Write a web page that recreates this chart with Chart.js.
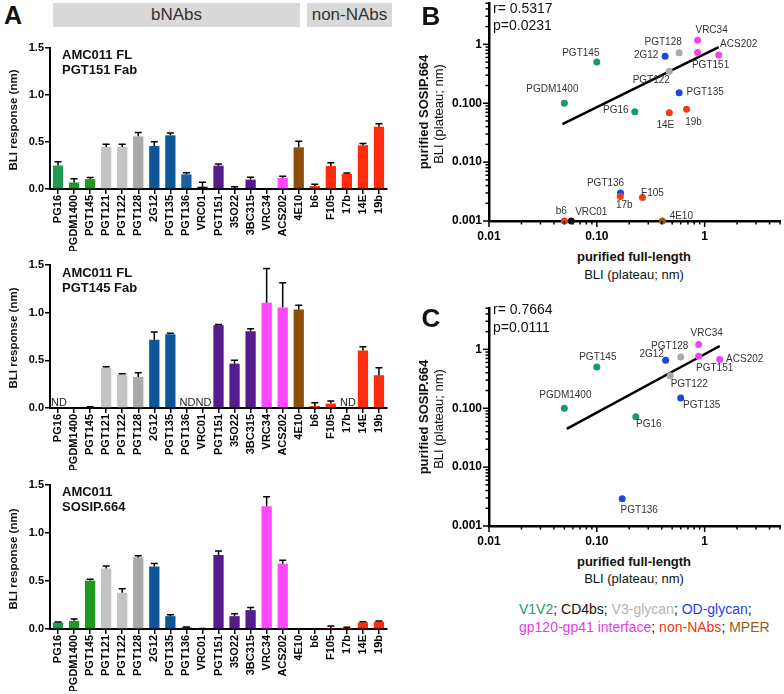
<!DOCTYPE html>
<html>
<head>
<meta charset="utf-8">
<script src="https://cdn.jsdelivr.net/npm/chart.js@4.4.0/dist/chart.umd.min.js"></script>
<style>
body { margin: 0; width: 784px; height: 694px; position: relative; overflow: hidden; background: #fff; font-family: "Liberation Sans", Arial, sans-serif; }
canvas { position: absolute; }
.t { position: absolute; white-space: nowrap; color: #111; line-height: 1; }
.c { transform: translate(-50%, -50%); }
.r { transform: translate(-50%, -50%) rotate(-90deg); }
.box { position: absolute; background: #d9d9d9; color: #333; font-size: 17px; text-align: center; line-height: 24px; height: 24px; }
</style>
</head>
<body>

<div class="t" style="left:4px;top:3px;font-size:25px;font-weight:bold;">A</div>
<div class="box" style="left:53px;top:3px;width:247px;">bNAbs</div>
<div class="box" style="left:307px;top:3px;width:85px;">non-NAbs</div>

<canvas id="barFab151" width="395" height="213" style="left:0;top:38px;"></canvas>
<canvas id="barFab145" width="395" height="215" style="left:0;top:255px;"></canvas>
<canvas id="barSosip" width="395" height="216" style="left:0;top:475px;"></canvas>

<div class="t" style="left:62px;top:47px;font-size:13px;font-weight:bold;line-height:15px;">AMC011 FL<br>PGT151 Fab</div>
<div class="t" style="left:62px;top:265px;font-size:13px;font-weight:bold;line-height:15px;">AMC011 FL<br>PGT145 Fab</div>
<div class="t" style="left:62px;top:484px;font-size:13px;font-weight:bold;line-height:15px;">AMC011<br>SOSIP.664</div>

<div class="t r" style="left:14px;top:120px;font-size:11.5px;font-weight:bold;">BLI response (nm)</div>
<div class="t r" style="left:14px;top:338px;font-size:11.5px;font-weight:bold;">BLI response (nm)</div>
<div class="t r" style="left:14px;top:559px;font-size:11.5px;font-weight:bold;">BLI response (nm)</div>

<canvas id="scatterB" width="384" height="251" style="left:400px;top:-5px;"></canvas>
<canvas id="scatterC" width="384" height="251" style="left:400px;top:300px;"></canvas>

<div class="t c" style="left:431px;top:16px;font-size:26px;font-weight:bold;">B</div>
<div class="t" style="left:493px;top:1px;font-size:14px;">r= 0.5317</div>
<div class="t" style="left:493px;top:18px;font-size:14px;">p=0.0231</div>
<div class="t c" style="left:634px;top:256px;font-size:13px;font-weight:bold;">purified full-length</div>
<div class="t c" style="left:634px;top:274px;font-size:13px;">BLI (plateau; nm)</div>
<div class="t r" style="left:423px;top:112px;font-size:13px;font-weight:bold;">purified SOSIP.664</div>
<div class="t r" style="left:438px;top:114px;font-size:13px;">BLI (plateau; nm)</div>

<div class="t c" style="left:431px;top:318px;font-size:26px;font-weight:bold;">C</div>
<div class="t" style="left:493px;top:302px;font-size:14px;">r= 0.7664</div>
<div class="t" style="left:493px;top:320px;font-size:14px;">p=0.0111</div>
<div class="t c" style="left:634px;top:561px;font-size:13px;font-weight:bold;">purified full-length</div>
<div class="t c" style="left:634px;top:578px;font-size:13px;">BLI (plateau; nm)</div>
<div class="t r" style="left:423px;top:417px;font-size:13px;font-weight:bold;">purified SOSIP.664</div>
<div class="t r" style="left:438px;top:419px;font-size:13px;">BLI (plateau; nm)</div>

<div class="t" style="left:519px;top:600px;font-size:14px;line-height:18px;">
<span style="color:#139a6a">V1V2</span>; <span style="color:#111">CD4bs</span>; <span style="color:#b3b3b3">V3-glycan</span>; <span style="color:#1d40ee">OD-glycan</span>;<br>
<span style="color:#e43ee4">gp120-gp41 interface</span>; <span style="color:#f03412">non-NAbs</span>; <span style="color:#9a5a12">MPER</span>
</div>

<script>
// antibodies on the bar charts
const antibodies = ['PG16', 'PGDM1400', 'PGT145', 'PGT121', 'PGT122', 'PGT128', '2G12', 'PGT135', 'PGT136', 'VRC01',
  'PGT151', '35O22', '3BC315', 'VRC34', 'ACS202', '4E10', 'b6', 'F105', '17b', '14E', '19b'];

// AMC011 FL captured with PGT151 Fab
const fab151Values = [0.25, 0.07, 0.105, 0.447, 0.447, 0.56, 0.457, 0.571, 0.156, 0.025, 0.248, 0.005, 0.1, 0, 0.117, 0.443, 0.032, 0.245, 0.16, 0.465, 0.663];
const fab151Errors = [0.04, 0.04, 0.018, 0.03, 0.03, 0.04, 0.046, 0.025, 0.018, 0.046, 0.018, 0.02, 0.025, 0, 0.018, 0.064, 0.018, 0.035, 0.01, 0.018, 0.032];
const fab151ND = [];

// AMC011 FL captured with PGT145 Fab
const fab145Values = [0, 0, 0.01, 0.422, 0.351, 0.326, 0.716, 0.773, 0, 0, 0.869, 0.465, 0.805, 1.103, 1.053, 1.032, 0.021, 0.046, 0, 0.603, 0.344];
const fab145Errors = [0, 0, 0.004, 0.01, 0.007, 0.043, 0.08, 0.01, 0, 0, 0.007, 0.035, 0.025, 0.36, 0.26, 0.046, 0.035, 0.028, 0, 0.039, 0.078];
const fab145ND = ['PG16', 'PGT136', 'VRC01', '17b'];

// AMC011 SOSIP.664
const sosipValues = [0.067, 0.085, 0.504, 0.63, 0.377, 0.746, 0.651, 0.134, 0.018, 0.003, 0.771, 0.134, 0.197, 1.278, 0.68, 0, 0, 0.005, 0.003, 0.068, 0.076];
const sosipErrors = [0.007, 0.018, 0.014, 0.025, 0.042, 0.018, 0.032, 0.014, 0.004, 0.003, 0.042, 0.025, 0.028, 0.1, 0.035, 0, 0, 0.025, 0.014, 0.007, 0.007];
const sosipND = [];

const barTicks = [0, 0.5, 1.0, 1.5];

// panel B: full-length vs SOSIP.664
const namesB = ['PGT145', 'PGDM1400', 'PG16', '2G12', 'PGT128', 'PGT122', 'VRC34', 'PGT151', 'ACS202', 'PGT135',
  '14E', '19b', 'PGT136', '17b', 'F105', 'b6', 'VRC01', '4E10'];
const fullLengthB = [0.1, 0.05, 0.225, 0.43, 0.58, 0.47, 0.86, 0.86, 1.35, 0.58, 0.47, 0.68, 0.166, 0.165, 0.265, 0.05, 0.058, 0.405];
const sosipB = [0.5, 0.1, 0.072, 0.63, 0.72, 0.35, 1.17, 0.73, 0.66, 0.15, 0.069, 0.079, 0.003, 0.0026, 0.0025, 0.001, 0.001, 0.001];
const groupB = ['V1V2', 'V1V2', 'V1V2', 'OD', 'V3', 'V3', 'interface', 'interface', 'interface', 'OD',
  'nonNAb', 'nonNAb', 'OD', 'nonNAb', 'nonNAb', 'nonNAb', 'CD4bs', 'MPER'];
const fitB = [[0.048, 0.044], [1.35, 0.9]];

// panel C: bNAbs only
const namesC = ['PGT145', 'PGDM1400', 'PG16', '2G12', 'PGT128', 'PGT122', 'VRC34', 'PGT151', 'ACS202', 'PGT135', 'PGT136'];
const fullLengthC = [0.1, 0.05, 0.23, 0.435, 0.6, 0.48, 0.88, 0.88, 1.38, 0.6, 0.172];
const sosipC = [0.5, 0.1, 0.072, 0.65, 0.74, 0.355, 1.21, 0.76, 0.67, 0.149, 0.0029];
const groupC = ['V1V2', 'V1V2', 'V1V2', 'OD', 'V3', 'V3', 'interface', 'interface', 'interface', 'OD', 'OD'];
const fitC = [[0.0526, 0.0446], [1.38, 1.14]];

const xTickValues = [0.01, 0.1, 1];
const xTickLabels = ['0.01', '0.10', '1'];
const yTickValues = [0.001, 0.01, 0.1, 1];
const yTickLabels = ['0.001', '0.010', '0.100', '1'];

const FONT = '"Liberation Sans", Arial, sans-serif';

const barColors = ['#1f9a55', '#1b9a2c', '#1e9a1e', '#c4c4c4', '#c4c4c4', '#a9a9a9', '#0b5699', '#0b5699', '#1a5f9e', '#111111',
  '#561b8d', '#561b8d', '#561b8d', '#ff47ff', '#ff47ff', '#8e4d0b', '#ff2b0b', '#ff2b0b', '#ff2b0b', '#ff2b0b', '#ff2b0b'];
const groupColors = { V1V2: '#159a68', CD4bs: '#111111', V3: '#a9a9a9', OD: '#1a45e8', interface: '#f043f0', nonNAb: '#f23c12', MPER: '#9a5a12' };

// label placement around the scatter points (px, centre of the text)
const labelOffsetB = { PGT145: [-16, -9], PGDM1400: [-12, -14], PG16: [-19, -1], '2G12': [-19, -1], PGT128: [-16, -11],
  PGT122: [-18, 9], VRC34: [14, -10], ACS202: [20, -11], PGT151: [13, 13], PGT135: [26, -1], '14E': [-4, 13],
  '19b': [7, 13], PGT136: [-15, -10], '17b': [4, 9], F105: [10, -4], b6: [-3, -10], VRC01: [20, -9], '4E10': [19, -5] };
const labelOffsetC = { VRC34: [8, -11], PGT128: [-11, -11], '2G12': [-14, -6], ACS202: [25, 0], PGT151: [16, 12],
  PGT145: [1, -10], PGT122: [19, 8], PGDM1400: [1, -13], PGT135: [21, 7], PG16: [13, 8], PGT136: [17, 11] };

const errorBars = {
  id: 'errorBars',
  afterDatasetsDraw(chart, args, opts) {
    const { ctx, scales: { x, y } } = chart;
    const vals = chart.data.datasets[0].data;
    ctx.save();
    ctx.strokeStyle = '#000';
    ctx.lineWidth = 1.5;
    vals.forEach((v, i) => {
      const e = opts.errors[i];
      if (!e) return;
      const px = x.getPixelForValue(i);
      const y0 = y.getPixelForValue(v);
      const y1 = y.getPixelForValue(v + e);
      ctx.beginPath();
      ctx.moveTo(px, y0);
      ctx.lineTo(px, y1);
      ctx.moveTo(px - 3.5, y1);
      ctx.lineTo(px + 3.5, y1);
      ctx.stroke();
    });
    ctx.fillStyle = '#222';
    ctx.font = '11px ' + FONT;
    ctx.textAlign = 'center';
    ctx.textBaseline = 'bottom';
    opts.nd.forEach(name => {
      const px = x.getPixelForValue(antibodies.indexOf(name));
      ctx.fillText('ND', px + 1, y.getPixelForValue(0));
    });
    ctx.restore();
  }
};

function barChart(id, values, errors, nd) {
  return new Chart(document.getElementById(id), {
    type: 'bar',
    data: {
      labels: antibodies,
      datasets: [{ data: values, backgroundColor: barColors, barPercentage: 0.64, categoryPercentage: 1 }]
    },
    options: {
      responsive: false,
      animation: false,
      devicePixelRatio: 1,
      layout: { padding: { top: 10, right: 8, left: 0, bottom: 0 } },
      plugins: { legend: { display: false }, tooltip: { enabled: false }, errorBars: { errors, nd } },
      scales: {
        x: {
          grid: { offset: false, drawOnChartArea: false, tickLength: 5, color: '#000', lineWidth: 1.5 },
          border: { color: '#000', width: 2 },
          ticks: { color: '#000', font: { family: FONT, size: 11, weight: 'bold' }, minRotation: 90, maxRotation: 90, autoSkip: false, padding: 1 },
          afterFit: s => { s.height = 62; }
        },
        y: {
          min: 0, max: 1.5,
          grid: { drawOnChartArea: false, tickLength: 5, color: '#000', lineWidth: 1.5 },
          border: { color: '#000', width: 2 },
          afterBuildTicks: s => { s.ticks = barTicks.map(v => ({ value: v })); },
          ticks: { callback: v => v.toFixed(1), color: '#000', font: { family: FONT, size: 11, weight: 'bold' }, padding: 1 },
          afterFit: s => { s.width = 50; }
        }
      }
    },
    plugins: [errorBars]
  });
}

barChart('barFab151', fab151Values, fab151Errors, fab151ND);
barChart('barFab145', fab145Values, fab145Errors, fab145ND);
barChart('barSosip', sosipValues, sosipErrors, sosipND);

function isDecade(v) {
  const l = Math.log10(v);
  return Math.abs(l - Math.round(l)) < 1e-6;
}
function isHalfStep(v) {
  const m = v / Math.pow(10, Math.floor(Math.log10(v) + 1e-9));
  return Math.abs(m - 1.5) < 0.01;
}

const logTicks = {
  id: 'logTicks',
  afterDraw(chart) {
    const { ctx, scales: { x, y } } = chart;
    ctx.save();
    ctx.strokeStyle = '#000';
    ctx.lineWidth = 1.5;
    x.ticks.forEach(t => {
      const p = x.getPixelForValue(t.value);
      ctx.beginPath();
      ctx.moveTo(p, x.top);
      ctx.lineTo(p, x.top + (isDecade(t.value) ? 6 : 3.5));
      ctx.stroke();
    });
    y.ticks.forEach(t => {
      const p = y.getPixelForValue(t.value);
      ctx.beginPath();
      ctx.moveTo(y.right, p);
      ctx.lineTo(y.right - (isDecade(t.value) ? 6 : 3.5), p);
      ctx.stroke();
    });
    ctx.restore();
  }
};

const pointLabels = {
  id: 'pointLabels',
  afterDatasetsDraw(chart, args, opts) {
    const { ctx } = chart;
    const meta = chart.getDatasetMeta(0);
    ctx.save();
    ctx.fillStyle = '#333';
    ctx.font = '10px ' + FONT;
    ctx.textAlign = 'center';
    ctx.textBaseline = 'middle';
    opts.names.forEach((name, i) => {
      const pt = meta.data[i];
      const off = opts.offsets[name] || [0, -10];
      ctx.fillText(name, pt.x + off[0], pt.y + off[1]);
    });
    ctx.restore();
  }
};

function tickLabel(values, labels) {
  return v => {
    const i = values.findIndex(t => Math.abs(t - v) / t < 1e-6);
    return i >= 0 ? labels[i] : '';
  };
}

function scatterChart(id, names, xs, ys, groups, fit, offsets) {
  const tickFont = { family: FONT, size: 12, weight: 'bold' };
  return new Chart(document.getElementById(id), {
    type: 'scatter',
    data: {
      datasets: [
        {
          data: xs.map((v, i) => ({ x: v, y: ys[i] })),
          pointBackgroundColor: groups.map(g => groupColors[g]),
          pointBorderWidth: 0,
          pointRadius: 3.5,
          order: 1
        },
        {
          data: fit.map(p => ({ x: p[0], y: p[1] })),
          showLine: true,
          borderColor: '#000',
          borderWidth: 2.5,
          pointRadius: 0,
          order: 2
        }
      ]
    },
    options: {
      responsive: false,
      animation: false,
      devicePixelRatio: 1,
      clip: false,
      layout: { padding: { top: 8, right: 3, left: 0, bottom: 0 } },
      plugins: { legend: { display: false }, tooltip: { enabled: false }, pointLabels: { names, offsets } },
      scales: {
        x: {
          type: 'logarithmic', min: 0.01, max: 5,
          grid: { display: false, tickLength: 6 },
          border: { color: '#000', width: 2.5 },
          afterBuildTicks: s => { s.ticks = s.ticks.filter(t => !isHalfStep(t.value)); },
          ticks: { callback: tickLabel(xTickValues, xTickLabels), autoSkip: false, maxRotation: 0, color: '#000', font: tickFont, padding: 2 },
          afterFit: s => { s.height = 25; }
        },
        y: {
          type: 'logarithmic', min: 0.001, max: 5,
          grid: { display: false, tickLength: 6 },
          border: { color: '#000', width: 2.5 },
          afterBuildTicks: s => { s.ticks = s.ticks.filter(t => !isHalfStep(t.value)); },
          ticks: { callback: tickLabel(yTickValues, yTickLabels), autoSkip: false, color: '#000', font: tickFont, padding: 1 },
          afterFit: s => { s.width = 89; }
        }
      }
    },
    plugins: [logTicks, pointLabels]
  });
}

scatterChart('scatterB', namesB, fullLengthB, sosipB, groupB, fitB, labelOffsetB);
scatterChart('scatterC', namesC, fullLengthC, sosipC, groupC, fitC, labelOffsetC);
</script>
</body>
</html>
